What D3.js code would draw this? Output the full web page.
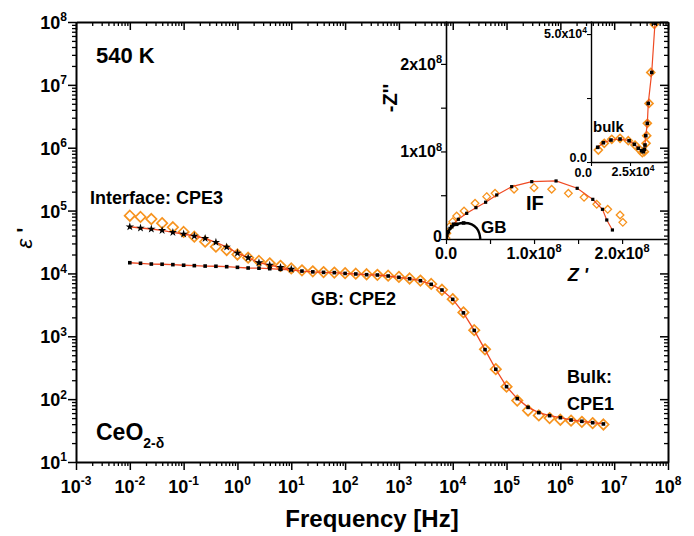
<!DOCTYPE html>
<html>
<head>
<meta charset="utf-8">
<script src="https://cdn.jsdelivr.net/npm/d3@7"></script>
<style>
  body { margin: 0; background: #fff; }
  svg { font-family: "Liberation Sans", Arial, Helvetica, sans-serif; font-weight: bold; }
</style>
</head>
<body>
<svg width="694" height="536"></svg>
<script>
// ---- main plot data: eps' vs frequency ----
var freq = [0.01, 0.0158, 0.0251, 0.0398, 0.0631, 0.1, 0.158, 0.251, 0.398, 0.631,
            1, 1.58, 2.51, 3.98, 6.31, 10, 15.8, 25.1, 39.8, 63.1,
            100, 158, 251, 398, 631, 1000, 1580, 2510, 3980, 6310,
            1e4, 1.58e4, 2.51e4, 3.98e4, 6.31e4, 1e5, 1.58e5, 2.51e5, 3.98e5, 6.31e5,
            1e6, 1.58e6, 2.51e6, 3.98e6, 6.31e6];

// measured (orange diamonds)
var epsData = [82800, 79100, 73500, 63100, 54300, 45700, 38400, 32000, 26600, 23600,
               20000, 17800, 15800, 14500, 13200, 12000, 11200, 10800, 10500, 10300,
               10100, 9900, 9700, 9500, 9200, 8800, 8300, 7700, 6800, 5500,
               3900, 2400, 1250, 620, 300, 158, 95, 66, 55, 50,
               47, 45.5, 43.5, 41.5, 39.5];

// fit incl. interface CPE3 (stars)
var epsFitIF = [55300, 52800, 50900, 48500, 45100, 42400, 39400, 36200, 31300, 26300,
                21100, 17800, 14800, 13500, 12500, 11700];

// fit GB + bulk (squares)
var epsFitGB = [14800, 14500, 14100, 14000, 13800, 13500, 13300, 13100, 13000, 12800,
                12500, 12200, 12100, 11900, 11600, 11400, 10900, 10600, 10400, 10300,
                10000, 9800, 9550, 9440, 9100, 8670, 8240, 7660, 6710, 5450,
                3870, 2360, 1240, 614, 299, 158, 102, 74, 61, 54.6,
                50.7, 46.6, 44.4, 42.2, 40.3];

// ---- inset: Nyquist plot ----
var nyqRe = [2.008e8, 1.977e8, 1.837e8, 1.712e8, 1.568e8, 1.39e8, 1.2e8, 1.0e8, 0.773e8,
             0.557e8, 0.462e8, 0.33e8, 0.205e8, 0.121e8, 0.076e8, 0.038e8, 0.01e8, 0.0];
var nyqIm = [0.19e8, 0.274e8, 0.339e8, 0.396e8, 0.476e8, 0.522e8, 0.568e8, 0.586e8, 0.568e8,
             0.522e8, 0.484e8, 0.408e8, 0.32e8, 0.263e8, 0.198e8, 0.141e8, 0.065e8, 0.01e8];

var nyqFitRe = [0, 0.015e8, 0.045e8, 0.083e8, 0.14e8, 0.235e8, 0.34e8, 0.45e8, 0.576e8,
                0.746e8, 0.974e8, 1.25e8, 1.49e8, 1.667e8, 1.777e8, 1.826e8, 1.89e8];
var nyqFitIm = [0, 0.072e8, 0.122e8, 0.171e8, 0.225e8, 0.293e8, 0.358e8, 0.42e8, 0.503e8,
                0.598e8, 0.655e8, 0.663e8, 0.579e8, 0.453e8, 0.339e8, 0.217e8, 0.103e8];

var gbArcRe = [0, 0.008e8, 0.026e8, 0.065e8, 0.121e8, 0.2e8, 0.292e8, 0.349e8, 0.378e8, 0.39e8];
var gbArcIm = [0, 0.04e8, 0.083e8, 0.14e8, 0.168e8, 0.183e8, 0.168e8, 0.122e8, 0.065e8, 0];

// ---- inner inset: bulk arc ----
var bulkRe = [0.47e4, 0.85e4, 1.33e4, 1.86e4, 2.39e4, 2.82e4, 3.14e4, 3.29e4, 3.42e4,
              3.53e4, 3.57e4, 3.61e4, 3.72e4, 3.83e4, 4.06e4];
var bulkIm = [0.469e4, 0.73e4, 0.887e4, 0.926e4, 0.832e4, 0.664e4, 0.469e4, 0.363e4, 0.402e4,
              0.73e4, 1.03e4, 1.51e4, 2.29e4, 3.50e4, 5.38e4];
var bulkFitRe = [0.43e4, 0.79e4, 1.28e4, 1.86e4, 2.44e4, 2.78e4, 3.03e4, 3.25e4, 3.35e4,
                 3.42e4, 3.46e4, 3.51e4, 3.61e4, 3.67e4, 3.89e4, 4.10e4];
var bulkFitIm = [0.574e4, 0.754e4, 0.859e4, 0.898e4, 0.832e4, 0.691e4, 0.535e4, 0.441e4, 0.402e4,
                 0.496e4, 0.664e4, 1.03e4, 1.51e4, 2.29e4, 3.50e4, 5.42e4];

// tick labels of the insets
var insetXTicks = [0, 1e8, 2e8], insetXText = [["0.0", ""], ["1.0x10", "8"], ["2.0x10", "8"]];
var insetYTicks = [0, 1e8, 2e8], insetYText = [["0", ""], ["1x10", "8"], ["2x10", "8"]];
var bulkXTicks = [0, 2.5e4], bulkXText = [["0.0", ""], ["2.5x10", "4"]];
var bulkYTicks = [0, 5e4], bulkYText = [["0.0", ""], ["5.0x10", "4"]];

var RED = "#ef4a23", ORANGE = "#f7931e";

var svg = d3.select("svg");

var x = d3.scaleLog().domain([1e-3, 1e8]).range([76, 668]);
var y = d3.scaleLog().domain([10, 1e8]).range([462, 22]);

function diamond(r) { return "M0," + (-r) + "L" + r + ",0L0," + r + "L" + (-r) + ",0Z"; }

function supText(g, px, py, anchor, base, sup, fs, sfs) {
  var t = g.append("text").attr("x", px).attr("y", py)
      .attr("text-anchor", anchor).attr("font-size", fs);
  t.append("tspan").text(base);
  if (sup) t.append("tspan").attr("font-size", sfs).attr("dy", -fs * 0.42).text(sup);
  return t;
}

// ---- main data ----
var pts = freq.map(function(f, i) { return { f: f, v: epsData[i] }; });

svg.append("g").selectAll("path")
  .data(pts).enter().append("path")
    .attr("transform", function(d) { return "translate(" + x(d.f) + "," + y(d.v) + ")"; })
    .attr("d", diamond(5.2))
    .attr("fill", "none").attr("stroke", ORANGE).attr("stroke-width", 1.7);

var line = d3.line().x(function(d) { return x(d.f); }).y(function(d) { return y(d.v); });
var gbPts = freq.map(function(f, i) { return { f: f, v: epsFitGB[i] }; });
var ifPts = epsFitIF.map(function(v, i) { return { f: freq[i], v: v }; });

svg.append("path").datum(gbPts).attr("d", line)
  .attr("fill", "none").attr("stroke", RED).attr("stroke-width", 1.3);
svg.append("path").datum(ifPts).attr("d", line)
  .attr("fill", "none").attr("stroke", RED).attr("stroke-width", 1.3);

svg.append("g").selectAll("path")
  .data(gbPts).enter().append("path")
    .attr("transform", function(d) { return "translate(" + x(d.f) + "," + y(d.v) + ")"; })
    .attr("d", d3.symbol().type(d3.symbolSquare).size(13))
    .attr("fill", "#000");
svg.append("g").selectAll("path")
  .data(ifPts).enter().append("path")
    .attr("transform", function(d) { return "translate(" + x(d.f) + "," + y(d.v) + ")"; })
    .attr("d", d3.symbol().type(d3.symbolStar).size(22))
    .attr("fill", "#000");

// ---- main text ----
svg.append("text").attr("x", 96).attr("y", 63).attr("font-size", 22).text("540 K");
svg.append("text").attr("x", 90).attr("y", 204).attr("font-size", 18).text("Interface: CPE3");
svg.append("text").attr("x", 311).attr("y", 305).attr("font-size", 18).text("GB: CPE2");
svg.append("text").attr("x", 567).attr("y", 383).attr("font-size", 18).text("Bulk:");
svg.append("text").attr("x", 567).attr("y", 410).attr("font-size", 18).text("CPE1");
var ceo = svg.append("text").attr("x", 96).attr("y", 440).attr("font-size", 23);
ceo.append("tspan").text("CeO");
ceo.append("tspan").attr("font-size", 14).attr("dy", 8).text("2-δ");

svg.append("text").attr("x", 372).attr("y", 527).attr("text-anchor", "middle")
  .attr("font-size", 24).text("Frequency [Hz]");
var eps = svg.append("text").attr("transform", "translate(32,238) rotate(-90)")
  .attr("text-anchor", "middle").attr("font-size", 22);
eps.append("tspan").attr("font-style", "italic").attr("font-weight", "normal").text("ε");
eps.append("tspan").text(" '");

// ---- inset ----
var xi = d3.scaleLinear().domain([0, 2.51e8]).range([446, 667]);
var yi = d3.scaleLinear().domain([0, 2.49e8]).range([239, 21]);

var inset = svg.append("g");
inset.append("rect").attr("x", 446).attr("y", 22).attr("width", 222).attr("height", 217).attr("fill", "#fff");
svg.append("clipPath").attr("id", "clipI").append("rect")
  .attr("x", 446).attr("y", 22).attr("width", 222).attr("height", 217);

var ip = inset.append("g").attr("clip-path", "url(#clipI)");
var nyq = nyqRe.map(function(r, i) { return [r, nyqIm[i]]; });
var nyqFit = nyqFitRe.map(function(r, i) { return [r, nyqFitIm[i]]; });
var gbArc = gbArcRe.map(function(r, i) { return [r, gbArcIm[i]]; });
var iline = d3.line().x(function(d) { return xi(d[0]); }).y(function(d) { return yi(d[1]); });

ip.selectAll(".nd").data(nyq).enter().append("path")
  .attr("transform", function(d) { return "translate(" + xi(d[0]) + "," + yi(d[1]) + ")"; })
  .attr("d", diamond(3.8)).attr("fill", "none").attr("stroke", ORANGE).attr("stroke-width", 1.3);
ip.append("path").datum(nyqFit).attr("d", iline)
  .attr("fill", "none").attr("stroke", RED).attr("stroke-width", 1.2);
ip.selectAll(".nf").data(nyqFit).enter().append("rect")
  .attr("x", function(d) { return xi(d[0]) - 1.6; }).attr("y", function(d) { return yi(d[1]) - 1.6; })
  .attr("width", 3.2).attr("height", 3.2).attr("fill", "#000");
ip.append("path").datum(gbArc).attr("d", iline.curve(d3.curveCatmullRom))
  .attr("fill", "none").attr("stroke", "#000").attr("stroke-width", 2.4);
iline.curve(d3.curveLinear);
ip.selectAll(".gb").data(gbArc.slice(0, 6)).enter().append("rect")
  .attr("x", function(d) { return xi(d[0]) - 1.8; }).attr("y", function(d) { return yi(d[1]) - 1.8; })
  .attr("width", 3.6).attr("height", 3.6).attr("fill", "#000");

inset.append("text").attr("x", 526).attr("y", 210).attr("font-size", 20).text("IF");
inset.append("text").attr("x", 481).attr("y", 233).attr("font-size", 17).text("GB");

var ixAx = inset.append("g").attr("transform", "translate(0,239)")
  .call(d3.axisBottom(xi).tickValues([0, 0.5e8, 1e8, 1.5e8, 2e8]).tickSize(5).tickSizeOuter(0).tickFormat(""));
var iyAx = inset.append("g").attr("transform", "translate(446,0)")
  .call(d3.axisLeft(yi).tickValues([0, 0.5e8, 1e8, 1.5e8, 2e8]).tickSize(5).tickSizeOuter(0).tickFormat(""));
[ixAx, iyAx].forEach(function(a) {
  a.select(".domain").attr("stroke-width", 1.6);
  a.selectAll(".tick line").attr("stroke-width", 1.2);
});
insetXTicks.forEach(function(v, i) {
  supText(inset, xi(v), 259, "middle", insetXText[i][0], insetXText[i][1], 16, 11);
});
insetYTicks.forEach(function(v, i) {
  supText(inset, 442, yi(v) + (v === 0 ? 3 : 6), "end", insetYText[i][0], insetYText[i][1], 16, 11);
});
inset.append("text").attr("transform", "translate(397,98) rotate(-90)")
  .attr("text-anchor", "middle").attr("font-size", 20).text("-Z''");
inset.append("text").attr("x", 578).attr("y", 281).attr("text-anchor", "middle")
  .attr("font-size", 18).attr("font-style", "italic").text("Z '");

// ---- inner inset (bulk) ----
var xb = d3.scaleLinear().domain([0, 4.87e4]).range([591, 667]);
var yb = d3.scaleLinear().domain([0, 5.51e4]).range([162, 21]);

var bin = svg.append("g");
bin.append("rect").attr("x", 591).attr("y", 22).attr("width", 77).attr("height", 140).attr("fill", "#fff");
svg.append("clipPath").attr("id", "clipB").append("rect")
  .attr("x", 591).attr("y", 22).attr("width", 77).attr("height", 140);
var bp = bin.append("g").attr("clip-path", "url(#clipB)");
var bulk = bulkRe.map(function(r, i) { return [r, bulkIm[i]]; });
var bulkFit = bulkFitRe.map(function(r, i) { return [r, bulkFitIm[i]]; });
var bline = d3.line().x(function(d) { return xb(d[0]); }).y(function(d) { return yb(d[1]); });

bp.selectAll(".bd").data(bulk).enter().append("path")
  .attr("transform", function(d) { return "translate(" + xb(d[0]) + "," + yb(d[1]) + ")"; })
  .attr("d", diamond(4)).attr("fill", "none").attr("stroke", ORANGE).attr("stroke-width", 1.6);
bp.append("path").datum(bulkFit).attr("d", bline)
  .attr("fill", "none").attr("stroke", RED).attr("stroke-width", 1.2);
bp.selectAll(".bf").data(bulkFit).enter().append("rect")
  .attr("x", function(d) { return xb(d[0]) - 1.8; }).attr("y", function(d) { return yb(d[1]) - 1.8; })
  .attr("width", 3.6).attr("height", 3.6).attr("fill", "#000");

bin.append("text").attr("x", 593).attr("y", 132).attr("font-size", 15).text("bulk");

var bxAx = bin.append("g").attr("transform", "translate(0,162)")
  .call(d3.axisBottom(xb).tickValues([0, 2.5e4]).tickSize(4).tickSizeOuter(0).tickFormat(""));
var byAx = bin.append("g").attr("transform", "translate(591,0)")
  .call(d3.axisLeft(yb).tickValues([0, 2.5e4, 5e4]).tickSize(4).tickSizeOuter(0).tickFormat(""));
[bxAx, byAx].forEach(function(a) {
  a.select(".domain").attr("stroke-width", 1.4);
  a.selectAll(".tick line").attr("stroke-width", 1.1);
});
supText(bin, xb(bulkXTicks[0]) + 1, 177, "end", bulkXText[0][0], bulkXText[0][1], 12.5, 8.5);
supText(bin, xb(bulkXTicks[1]) + 3, 176, "middle", bulkXText[1][0], bulkXText[1][1], 12.5, 8.5);
bulkYTicks.forEach(function(v, i) {
  supText(bin, 587, yb(v) + (v === 0 ? 0 : 4), "end", bulkYText[i][0], bulkYText[i][1], 12.5, 8.5);
});

// ---- main axes (drawn last, over the inset) ----
function isMajor(v) { var l = Math.log10(v); return Math.abs(l - Math.round(l)) < 1e-6; }
var xt = x.ticks(120), yt = y.ticks(120);
var xMaj = xt.filter(isMajor), xMin = xt.filter(function(v) { return !isMajor(v); });
var yMaj = yt.filter(isMajor), yMin = yt.filter(function(v) { return !isMajor(v); });

function axisPair(gen, scale, maj, min, tr, big, small) {
  var a = svg.append("g").attr("transform", tr)
    .call(gen(scale).tickValues(min).tickSize(small).tickSizeOuter(0).tickFormat(""));
  a.select(".domain").remove();
  a.selectAll(".tick line").attr("stroke-width", 1.3);
  var b = svg.append("g").attr("transform", tr)
    .call(gen(scale).tickValues(maj).tickSize(big).tickSizeOuter(0).tickFormat(""));
  b.select(".domain").attr("stroke-width", 2);
  b.selectAll(".tick line").attr("stroke-width", 1.5);
}
axisPair(d3.axisBottom, x, xMaj, xMin, "translate(0,462)", 8, 4);
axisPair(d3.axisTop, x, xMaj, xMin, "translate(0,22)", -8, -4);
axisPair(d3.axisLeft, y, yMaj, yMin, "translate(76,0)", 8, 4);
axisPair(d3.axisRight, y, yMaj, yMin, "translate(668,0)", -8, -4);

var lab = svg.append("g");
xMaj.forEach(function(v) {
  supText(lab, x(v), 493, "middle", "10", String(Math.round(Math.log10(v))), 18, 12);
});
yMaj.forEach(function(v) {
  supText(lab, 67, y(v) + 7, "end", "10", String(Math.round(Math.log10(v))), 18, 12);
});
</script>
</body>
</html>
